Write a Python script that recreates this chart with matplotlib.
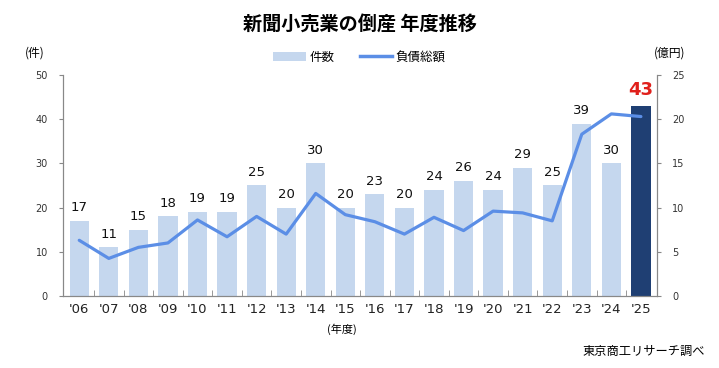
import matplotlib.pyplot as plt
from matplotlib.patches import Patch
from matplotlib.lines import Line2D

plt.rcParams['font.family'] = ['DejaVu Sans', 'Noto Sans CJK JP']

years = ["'06", "'07", "'08", "'09", "'10", "'11", "'12", "'13", "'14", "'15",
         "'16", "'17", "'18", "'19", "'20", "'21", "'22", "'23", "'24", "'25"]
cases = [17, 11, 15, 18, 19, 19, 25, 20, 30, 20, 23, 20, 24, 26, 24, 29, 25, 39, 30, 43]
debt = [6.3, 4.25, 5.5, 6.0, 8.6, 6.7, 9.0, 7.0, 11.6, 9.2,
        8.4, 7.0, 8.9, 7.4, 9.6, 9.4, 8.5, 18.3, 20.6, 20.3]

bar_color = '#c5d7ee'
last_color = '#1f3f73'
line_color = '#5b8ee6'
axis_color = '#888888'
jp = ['Noto Sans CJK JP', 'DejaVu Sans']

fig = plt.figure(figsize=(7.19, 3.68), dpi=100)
ax = fig.add_axes([0.0876, 0.1957, 0.8264, 0.6005])
ax2 = ax.twinx()

x = list(range(len(years)))
colors = [bar_color] * (len(years) - 1) + [last_color]
ax.bar(x, cases, width=0.65, color=colors, zorder=2)
ax2.plot(x, debt, color=line_color, linewidth=2.3, solid_capstyle='round', zorder=3)

for i, v in enumerate(cases):
    if i == len(cases) - 1:
        ax.text(i, v + 1.5, str(v), ha='center', va='bottom', color='#e0201b',
                fontsize=13, fontweight='bold')
    else:
        ax.text(i, v + 1.5, str(v), ha='center', va='bottom', fontsize=9.5, color='#111111')

ax.set_xlim(-0.55, len(years) - 0.45)
ax.set_ylim(0, 50)
ax2.set_ylim(0, 25)
ax.set_yticks(range(0, 51, 10))
ax2.set_yticks(range(0, 26, 5))
ax.set_xticks(x)
ax.set_xticklabels(years, fontsize=9.5, color='#222222')
ax.tick_params(axis='x', length=0, pad=5)
ax.set_xticks([i + 0.5 for i in x[:-1]], minor=True)
ax.tick_params(axis='x', which='minor', direction='in', length=4, color=axis_color)
ax.tick_params(axis='y', labelsize=7, colors='#333333', length=3, color=axis_color, pad=8)
ax2.tick_params(axis='y', labelsize=7, colors='#333333', length=3, color=axis_color, pad=8)

for a in (ax, ax2):
    a.spines['top'].set_visible(False)
    for s in ('left', 'right', 'bottom'):
        a.spines[s].set_color(axis_color)

ax.set_zorder(ax2.get_zorder() - 1)
ax.patch.set_visible(False)

fig.text(0.5, 0.935, '新聞小売業の倒産 年度推移', ha='center', va='center',
         fontsize=13.8, fontweight='bold', family=jp)
fig.text(0.048, 0.855, '(件)', ha='center', va='center', fontsize=8.5, family=jp)
fig.text(0.932, 0.855, '(億円)', ha='center', va='center', fontsize=8.5, family=jp)
fig.text(0.476, 0.105, '(年度)', ha='center', va='center', fontsize=8, family=jp)
fig.text(0.98, 0.045, '東京商工リサーチ調べ', ha='right', va='center', fontsize=8.8, family=jp)

handles = [Patch(facecolor=bar_color, edgecolor='none'),
           Line2D([0], [0], color=line_color, linewidth=2.5)]
fig.legend(handles, ['件数', '負債総額'], loc='center', bbox_to_anchor=(0.5, 0.845),
           ncol=2, frameon=False, prop={'family': jp, 'size': 9},
           handlelength=2.6, columnspacing=2.0, handletextpad=0.3)

fig.savefig('out.png', dpi=100)
